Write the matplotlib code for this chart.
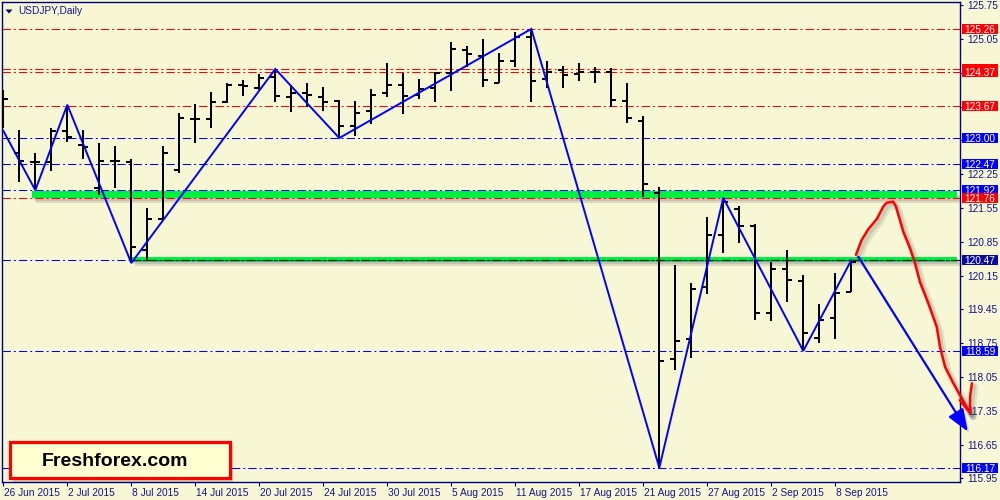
import matplotlib
matplotlib.use('Agg')
import matplotlib.pyplot as plt
import matplotlib.patheffects as pe
import matplotlib.transforms as mtrans
from matplotlib.patches import Rectangle, Polygon
from matplotlib.transforms import blended_transform_factory
import numpy as np

plt.rcParams['lines.scale_dashes'] = False
FONT = ['Liberation Sans Narrow', 'Liberation Sans', 'DejaVu Sans']

# ---------------- data ----------------
tick_idx = [0, 4, 8, 12, 16, 20, 24, 28, 32, 36, 40, 44, 48, 52]
tick_labels = ["26 Jun 2015", "2 Jul 2015", "8 Jul 2015", "14 Jul 2015", "20 Jul 2015",
               "24 Jul 2015", "30 Jul 2015", "5 Aug 2015", "11 Aug 2015", "17 Aug 2015",
               "21 Aug 2015", "27 Aug 2015", "2 Sep 2015", "8 Sep 2015"]

opens = [123.72, 122.70, 122.50, 122.50, 123.15, 122.85, 121.97, 122.53, 122.51, 120.68,
         121.32, 122.34, 123.40, 123.40, 123.75, 124.10, 124.03, 124.27, 123.84, 123.93,
         123.84, 123.77, 123.24, 123.55, 123.94, 124.10, 123.89, 124.03, 124.35, 124.82,
         124.69, 124.15, 124.60, 125.10, 124.22, 124.40, 124.33, 124.37, 124.36, 123.77,
         123.36, 121.87, 118.42, 118.83, 119.92, 120.99, 121.54, 121.18, 119.37, 120.28,
         120.04, 118.86, 119.28, 119.80]
highs = [124.00, 123.17, 122.70, 123.20, 123.69, 123.17, 122.89, 122.84, 122.56, 121.55,
         122.84, 123.51, 123.71, 123.95, 124.15, 124.20, 124.33, 124.43, 124.10, 124.15,
         124.06, 123.79, 123.77, 124.01, 124.55, 124.34, 124.22, 124.36, 124.98, 124.91,
         125.05, 124.76, 125.19, 125.26, 124.60, 124.50, 124.55, 124.48, 124.45, 124.13,
         123.46, 121.99, 120.37, 119.99, 121.37, 121.74, 121.59, 121.22, 120.44, 120.68,
         120.16, 119.56, 120.20, 120.47]
lows = [123.21, 122.08, 121.94, 122.32, 122.92, 122.57, 121.83, 121.97, 120.41, 120.45,
        121.32, 122.27, 122.89, 123.21, 123.72, 123.88, 124.00, 123.74, 123.53, 123.65,
        123.57, 123.00, 123.05, 123.30, 123.84, 123.49, 123.81, 123.75, 123.98, 124.48,
        124.06, 124.15, 124.48, 123.75, 124.03, 124.03, 124.19, 124.15, 123.65, 123.31,
        121.78, 116.17, 118.19, 118.44, 119.76, 120.61, 120.83, 119.23, 119.21, 119.61,
        118.59, 118.76, 118.83, 119.80]
closes = [123.81, 122.53, 122.50, 123.15, 123.03, 122.82, 122.53, 122.53, 120.74, 121.32,
          122.70, 123.41, 123.39, 123.74, 124.10, 124.08, 124.25, 123.87, 123.94, 123.89,
          123.75, 123.24, 123.51, 123.89, 124.10, 123.87, 124.01, 124.35, 124.84, 124.74,
          124.20, 124.60, 125.10, 124.19, 124.37, 124.31, 124.37, 124.37, 123.79, 123.41,
          122.04, 118.39, 118.80, 119.87, 120.99, 121.68, 121.18, 119.37, 120.28, 120.05,
          118.97, 119.23, 119.78, 120.43]

# zigzag pivots (bar index, price)
zz_idx = [0, 2, 4, 8, 17, 21, 33, 41, 45, 50, 53]
zz_price = [123.15, 121.92, 123.69, 120.41, 124.43, 123.00, 125.26, 116.17, 121.76, 118.59, 120.47]

# horizontal levels
red_levels = [125.26, 124.42, 124.37, 123.67, 121.76]
blue_levels = [123.00, 122.47, 121.92, 120.47, 118.59, 116.17]
# price labels at right (drawing order), colours, whether the text shows
label_prices = [125.26, 124.42, 124.37, 123.67, 123.00, 122.47, 121.92, 121.76, 120.47, 118.59, 116.17]
label_colors = ['#FF0000', '#FF0000', '#FF0000', '#FF0000', '#0000FF', '#0000FF', '#0000FF',
                '#FF0000', '#0A0AA0', '#0000FF', '#0000FF']
label_shown = [True, False, True, True, True, True, True, True, True, True, True]

# green support zones: (start index, low, high)
zones = [(1.8, 121.76, 121.90), (8.0, 120.44, 120.54)]

# hand-drawn forecast paths (bar index, price)
red_path_x = [53.29, 53.65, 54.06, 54.59, 55.00, 55.21, 55.63, 55.79, 56.04, 56.25, 56.67,
              56.98, 57.29, 57.81, 58.34, 58.54, 58.86, 59.38, 59.90, 60.42]
red_path_y = [120.58, 120.89, 121.11, 121.32, 121.58, 121.66, 121.68, 121.58, 121.30, 121.06,
              120.72, 120.41, 120.02, 119.58, 119.09, 118.68, 118.26, 117.92, 117.61, 117.31]
red_head1_x = [59.78, 60.42]
red_head1_y = [117.57, 117.31]
red_head2_x = [60.54, 60.42, 60.42]
red_head2_y = [117.92, 117.64, 117.31]
blue_arrow_start = (53.44, 120.54)
blue_arrow_end = (60.28, 116.92)

yticks = [115.95 + 0.70 * k for k in range(15)]
hidden_yticks = [122.95, 123.65, 124.35]   # covered by level labels in the original

# ---------------- figure ----------------
BG = '#F7F7D6'
NAVY = '#000080'
TXT = '#141488'
fig = plt.figure(figsize=(10, 5), dpi=100, facecolor=BG)
ax = fig.add_axes([2 / 1000, 18 / 500, 958 / 1000, 480 / 500], facecolor=BG)
ax.set_xlim(-1.3 / 16, 956.7 / 16)
ax.set_ylim(115.874, 125.818)

for s in ax.spines.values():
    s.set_color(NAVY)
    s.set_linewidth(1.0)

ax.yaxis.tick_right()
ax.set_yticks(yticks)
ax.set_yticklabels(['' if any(abs(v - h) < 0.005 for h in hidden_yticks) else '%.2f' % v
                    for v in yticks])
ax.tick_params(axis='y', direction='out', length=2.5, width=0.8, color=NAVY, pad=2.5,
               labelsize=7.3, labelcolor=TXT)
ax.set_xticks(tick_idx)
ax.set_xticklabels(tick_labels, ha='left')
ax.tick_params(axis='x', direction='out', length=3, width=0.8, color=NAVY, pad=1.5,
               labelsize=7.3, labelcolor=TXT)
for lab in ax.get_xticklabels() + ax.get_yticklabels():
    lab.set_family(FONT)
offset = mtrans.ScaledTranslation(1 / 100, 0, fig.dpi_scale_trans)
for lab in ax.get_xticklabels():
    lab.set_transform(lab.get_transform() + offset)

dashdot = (0, (6.0, 2.2, 1.4, 2.2))

# horizontal lines
for p in red_levels:
    ax.axhline(p, color='#FF0000', lw=0.75, ls=dashdot, zorder=2)
for p in blue_levels:
    ax.axhline(p, color='#0000FF', lw=0.75, ls=dashdot, zorder=2)

# green zones with soft shadow
xmax_zone = 59.6
for x0, lo, hi in zones:
    r = Rectangle((x0, lo), xmax_zone - x0, hi - lo, facecolor='#00F040', edgecolor='none',
                  zorder=1.6)
    r.set_path_effects([pe.SimplePatchShadow(offset=(2.5, -3.5), shadow_rgbFace='#606060', alpha=0.18),
                        pe.SimplePatchShadow(offset=(1.5, -2), shadow_rgbFace='#606060', alpha=0.18),
                        pe.Normal()])
    ax.add_patch(r)
# black level line along lower zone
ax.hlines(120.47, 8.0, 59.8, colors='#101010', lw=0.9, linestyles=[dashdot], zorder=2.2)

# OHLC bars
idx = np.arange(len(opens))
tick_len = 5 / 16
ax.vlines(idx, lows, highs, colors='k', lw=1.45, zorder=3, capstyle='butt')
ax.hlines(opens, idx - tick_len, idx, colors='k', lw=1.45, zorder=3, capstyle='butt')
ax.hlines(closes, idx, idx + tick_len, colors='k', lw=1.45, zorder=3, capstyle='butt')

# zigzag
ax.plot(zz_idx, zz_price, color='#0000FF', lw=1.4, zorder=4, solid_joinstyle='miter')

# forecast paths with soft shadow
shadow = [pe.SimpleLineShadow(offset=(2.2, -2.8), shadow_color='#505050', alpha=0.12, linewidth=5),
          pe.SimpleLineShadow(offset=(1.6, -2.0), shadow_color='#505050', alpha=0.15, linewidth=3),
          pe.Normal()]
for xs, ys in [(red_path_x, red_path_y), (red_head1_x, red_head1_y), (red_head2_x, red_head2_y)]:
    ln, = ax.plot(xs, ys, color='#FF0000', lw=1.8, zorder=6, clip_on=False,
                  solid_capstyle='round', solid_joinstyle='round')
    ln.set_path_effects(shadow)

ann = ax.annotate('', xy=blue_arrow_end, xytext=blue_arrow_start,
                  arrowprops=dict(arrowstyle='-|>,head_length=0.9,head_width=0.35',
                                  color='#0000FF', lw=1.6, mutation_scale=15,
                                  shrinkA=0, shrinkB=0),
                  annotation_clip=False, zorder=6)
ann.arrow_patch.set_path_effects([pe.SimplePatchShadow(offset=(2.2, -2.8), shadow_rgbFace='#505050', alpha=0.2),
                                  pe.Normal()])

# right-side price labels
tr = blended_transform_factory(ax.transAxes, ax.transData)
px_per_price = 480 / (125.818 - 115.874)
box_h = 10 / px_per_price
box_x = (962.3 - 2) / 958
box_w = 35.5 / 958
for i, (p, c, shown) in enumerate(zip(label_prices, label_colors, label_shown)):
    rb = Rectangle((box_x, p - box_h / 2), box_w, box_h, transform=tr, facecolor=c,
                   edgecolor='none', clip_on=False, zorder=7 + 2 * i)
    ax.add_patch(rb)
    if shown:
        ax.text(box_x + box_w / 2, p, '%.2f' % p, transform=tr, ha='center', va='center_baseline',
                color='white', fontsize=7.3, family=FONT, clip_on=False, zorder=8 + 2 * i)

# chart title
fig.text(18 / 1000, 1 - 11.5 / 500, 'USDJPY,Daily', ha='left', va='center', fontsize=7.3,
         color=TXT, family=FONT)
fig.add_artist(Polygon([[5.5 / 1000, 1 - 9.5 / 500], [12.5 / 1000, 1 - 9.5 / 500],
                        [9 / 1000, 1 - 13.5 / 500]], closed=True, transform=fig.transFigure,
                       facecolor=NAVY, edgecolor='none'))

# Freshforex logo box
logo = Rectangle((9.5 / 1000, 21.7 / 500), 220.5 / 1000, 36.6 / 500, transform=fig.transFigure,
                 facecolor='#FFFFD2', edgecolor='#FF0000', lw=2.3, zorder=40)
logo.set_path_effects([pe.SimplePatchShadow(offset=(2.5, -2.5), shadow_rgbFace='#505050', alpha=0.25),
                       pe.Normal()])
fig.add_artist(logo)
fig.text(115 / 1000, (500 - 461) / 500, 'Freshforex.com', ha='center', va='center',
         fontsize=14, fontweight='bold', color='black',
         family=['Liberation Sans', 'DejaVu Sans'], zorder=41)

fig.savefig('out.png', dpi=100, facecolor=BG)
